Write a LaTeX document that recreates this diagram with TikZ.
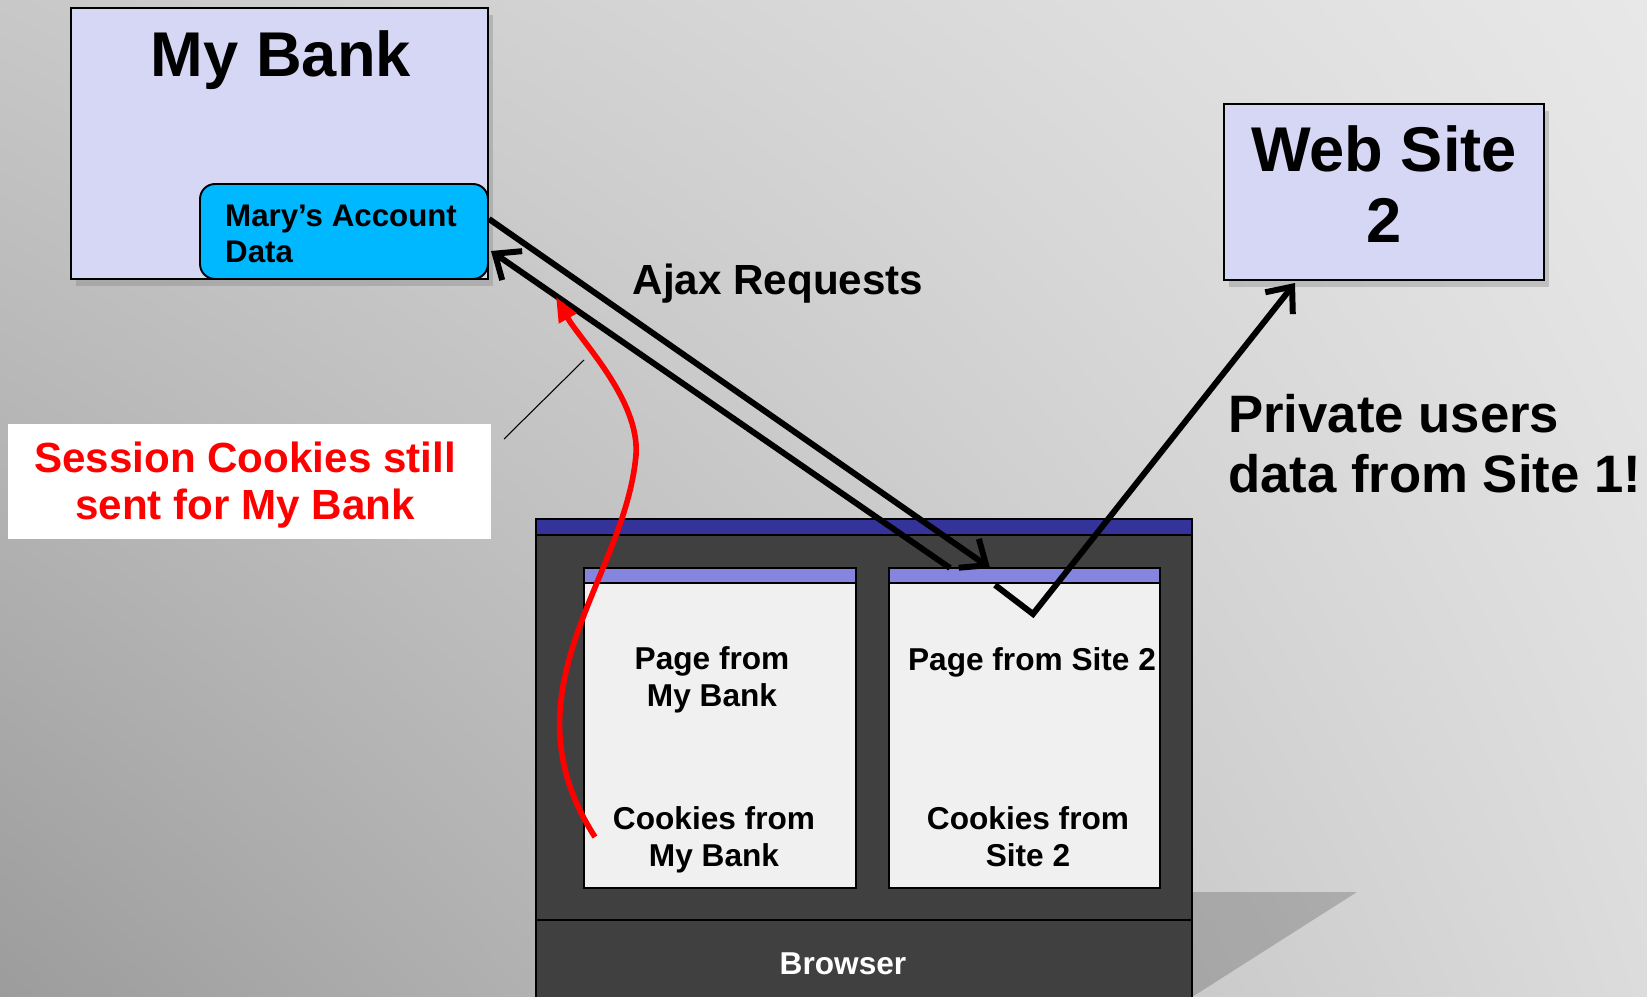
\documentclass[tikz,border=0pt]{standalone}
\usepackage{fontspec}
\setmainfont{Liberation Sans}
\usetikzlibrary{arrows.meta,shadows,shadings,positioning}

\definecolor{bankfill}{HTML}{D6D6F5}
\definecolor{maryfill}{HTML}{00B8FF}
\definecolor{browserfill}{HTML}{404040}
\definecolor{titlebar}{HTML}{333399}
\definecolor{pagebar}{HTML}{8585E0}
\definecolor{pagefill}{HTML}{F0F0F0}
\definecolor{leakred}{HTML}{FF0000}
\definecolor{bgul}{HTML}{C8C8C8}
\definecolor{bgur}{HTML}{E8E8E8}
\definecolor{bgll}{HTML}{9C9C9C}
\definecolor{bglr}{HTML}{DCDCDC}

\begin{document}
\begin{tikzpicture}[x=0.02cm,y=-0.02cm,
  site node/.style={draw,line width=1.1pt,fill=bankfill,inner sep=0pt,
    drop shadow={opacity=0.35,shadow xshift=3pt,shadow yshift=-4pt}},
  page node/.style={draw,line width=1.1pt,fill=pagefill,inner sep=0pt,
    minimum width=5.43cm,minimum height=6.4cm},
  bar node/.style={draw,line width=1.1pt,fill=pagebar,inner sep=0pt,
    minimum width=5.43cm,minimum height=0.3cm},
  page text/.style={font=\bfseries\fontsize{18}{20.5}\selectfont,align=center,anchor=base},
  big text/.style={font=\bfseries\fontsize{36}{40.4}\selectfont,align=center,anchor=base},
  ajax/.style={line width=3.4pt,-{Straight Barb[length=12pt,width=20pt]}},
  cookie/.style={line width=3.2pt,leakred,-{Triangle[length=14pt,width=11pt]}}]

  % background
  \shade[upper left=bgul,upper right=bgur,lower left=bgll,lower right=bglr]
    (0,0) rectangle (1647,997);
  \useasboundingbox (0,0) rectangle (1647,997);

  % shadow under the browser
  \fill[black,opacity=0.18] (1192,892) -- (1357,892) -- (1192,997) -- cycle;

  % the bank
  \node[site node,minimum width=8.34cm,minimum height=5.42cm] (bank) at (279.5,143.5) {};
  \node[big text] (banktitle) at (281,77) {My Bank};
  \node[draw,line width=1.1pt,fill=maryfill,rounded corners=0.3cm,inner sep=0pt,
    minimum width=5.76cm,minimum height=1.9cm] (mary) at (344,231.5) {};
  \node[font=\bfseries\fontsize{17.8}{20}\selectfont,align=left,anchor=base west]
    (marytext) at (219,262) {Mary’s Account\\Data};

  % the other site
  \node[site node,minimum width=6.4cm,minimum height=3.52cm] (site2) at (1384,192) {};
  \node[big text] (site2title) at (1384,242) {Web Site\\2};

  % the browser
  \node[draw,line width=1.1pt,fill=browserfill,inner sep=0pt,
    minimum width=13.12cm,minimum height=9.72cm] (browser) at (864,762) {};
  \node[draw,line width=1.1pt,fill=titlebar,inner sep=0pt,
    minimum width=13.12cm,minimum height=0.32cm] (tbar) at (864,527) {};
  \node[draw,line width=1.1pt,fill=browserfill,inner sep=0pt,
    minimum width=13.12cm,minimum height=1.7cm] (status) at (864,962.5) {};
  \node[text=white,font=\bfseries\fontsize{18}{20}\selectfont,anchor=base]
    (browsertext) at (843,974) {Browser};

  \node[page node] (page1) at (720,728) {};
  \node[bar node] (bar1) [below=0pt of page1.north] {};
  \node[page node] (page2) at (1024.5,728) {};
  \node[bar node] (bar2) [below=0pt of page2.north] {};

  \node[page text] (p1top) at (712,706) {Page from\\My Bank};
  \node[page text] (p1bot) at (714,866) {Cookies from\\My Bank};
  \node[page text] (p2top) at (1032,670) {Page from Site 2};
  \node[page text] (p2bot) at (1028,866) {Cookies from\\Site 2};

  % notes
  \node[fill=white,inner sep=0pt,minimum width=9.66cm,minimum height=2.3cm] (note) at (249.5,481.5) {};
  \node[font=\bfseries\fontsize{24}{26.2}\selectfont,text=leakred,align=center,anchor=base]
    (notetext) at (245,519) {Session Cookies still\\sent for My Bank};
  \node[font=\bfseries\fontsize{24}{28}\selectfont,anchor=base] (ajaxlabel) at (778,294) {Ajax Requests};
  \node[font=\bfseries\fontsize{30}{34}\selectfont,align=left,anchor=base west]
    (leaklabel) at (1222,492) {Private users\\data from Site 1!};

  \coordinate (ajaxfrom) at (489,219);
  \coordinate (ajaxto) at (990,568);
  \coordinate (replyfrom) at (950,568);
  \coordinate (replyto) at (491,251);
  \coordinate (leakfrom) at (995,585);
  \coordinate (leakbend) at (1033,614);
  \coordinate (leakto) at (1295,283);
  \coordinate (cookiefrom) at (595,837);
  \coordinate (cookieto) at (556,297);
  \coordinate (pointfrom) at (504,439);
  \coordinate (pointto) at (584,360);

  \draw[ajax] (ajaxfrom) -- (ajaxto);
  \draw[ajax] (replyfrom) -- (replyto);
  \draw[ajax] (leakfrom) -- (leakbend) -- (leakto);
  \draw[cookie] (cookiefrom) .. controls (500,690) and (625,580) .. (636,455)
    .. controls (640,400) and (580,340) .. (cookieto);
  \draw[line width=0.6pt] (pointfrom) -- (pointto);
\end{tikzpicture}
\end{document}
